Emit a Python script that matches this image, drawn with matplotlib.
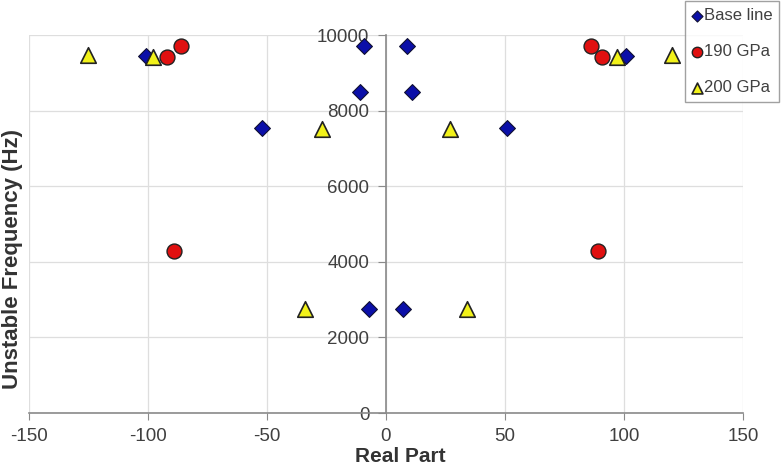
import matplotlib
matplotlib.use('Agg')
import matplotlib.pyplot as plt

plt.rcParams['font.family'] = ['Liberation Sans', 'DejaVu Sans']
plt.rcParams['axes.unicode_minus'] = False

# Base line (blue diamonds)
base_x = [-101, -9, 9, -11, 11, -52, 51, 101, -7, 7]
base_y = [9450, 9700, 9700, 8500, 8500, 7550, 7550, 9450, 2750, 2750]

# 190 GPa (red circles)
gpa190_x = [-86, -92, 86, 91, -89, 89]
gpa190_y = [9720, 9420, 9720, 9420, 4300, 4300]

# 200 GPa (yellow triangles)
gpa200_x = [-125, -98, -27, 27, 97, 120, -34, 34]
gpa200_y = [9480, 9420, 7520, 7520, 9420, 9480, 2750, 2750]

fig = plt.figure(figsize=(7.82, 4.68), dpi=100)
ax = fig.add_axes([0.037, 0.1175, 0.913, 0.8075])

ax.scatter(base_x, base_y, marker='D', s=65, c='#0b0fa8', edgecolors='#111133',
           linewidths=0.8, zorder=3, label='Base line')
ax.scatter(gpa190_x, gpa190_y, marker='o', s=115, c='#e01010', edgecolors='#222222',
           linewidths=1.0, zorder=3, label='190 GPa')
ax.scatter(gpa200_x, gpa200_y, marker='^', s=125, c='#f2f21a', edgecolors='#222222',
           linewidths=1.2, zorder=3, label='200 GPa')

ax.set_xlim(-150, 150)
ax.set_ylim(0, 10000)
ax.set_xticks(range(-150, 151, 50))
ax.set_yticks(range(0, 10001, 2000))

ax.spines['left'].set_position(('data', 0))
ax.spines['bottom'].set_position(('data', 0))
ax.spines['top'].set_visible(False)
ax.spines['right'].set_visible(False)
for side in ['left', 'bottom']:
    ax.spines[side].set_color('#8a8a8a')
    ax.spines[side].set_linewidth(1.2)

ax.tick_params(axis='both', colors='#8a8a8a', labelcolor='#404040',
               labelsize=13.5, direction='out')
ax.tick_params(axis='y', length=6, pad=6)
ax.tick_params(axis='x', length=5, pad=6)
ax.grid(True, color='#dedede', linewidth=0.9)
ax.set_axisbelow(True)

fig.text(400 / 782, 1 - 457 / 468, 'Real Part', fontsize=15, fontweight='bold',
         color='#333333', ha='center', va='center')
fig.text(13 / 782, 1 - 259 / 468, 'Unstable Frequency (Hz)', rotation=90, fontsize=16,
         fontweight='bold', color='#333333', ha='center', va='center')

leg = fig.legend(loc='lower right', bbox_to_anchor=(779 / 782, 1 - 102 / 468), fontsize=12,
                 frameon=True, fancybox=False, handletextpad=0.1, handlelength=0.65,
                 borderpad=0.4, labelspacing=1.27, markerscale=0.7,
                 labelcolor='#404040', borderaxespad=0)
leg.get_frame().set_edgecolor('#8a8a8a')
leg.get_frame().set_linewidth(1.0)

fig.savefig('out.png', dpi=100)
